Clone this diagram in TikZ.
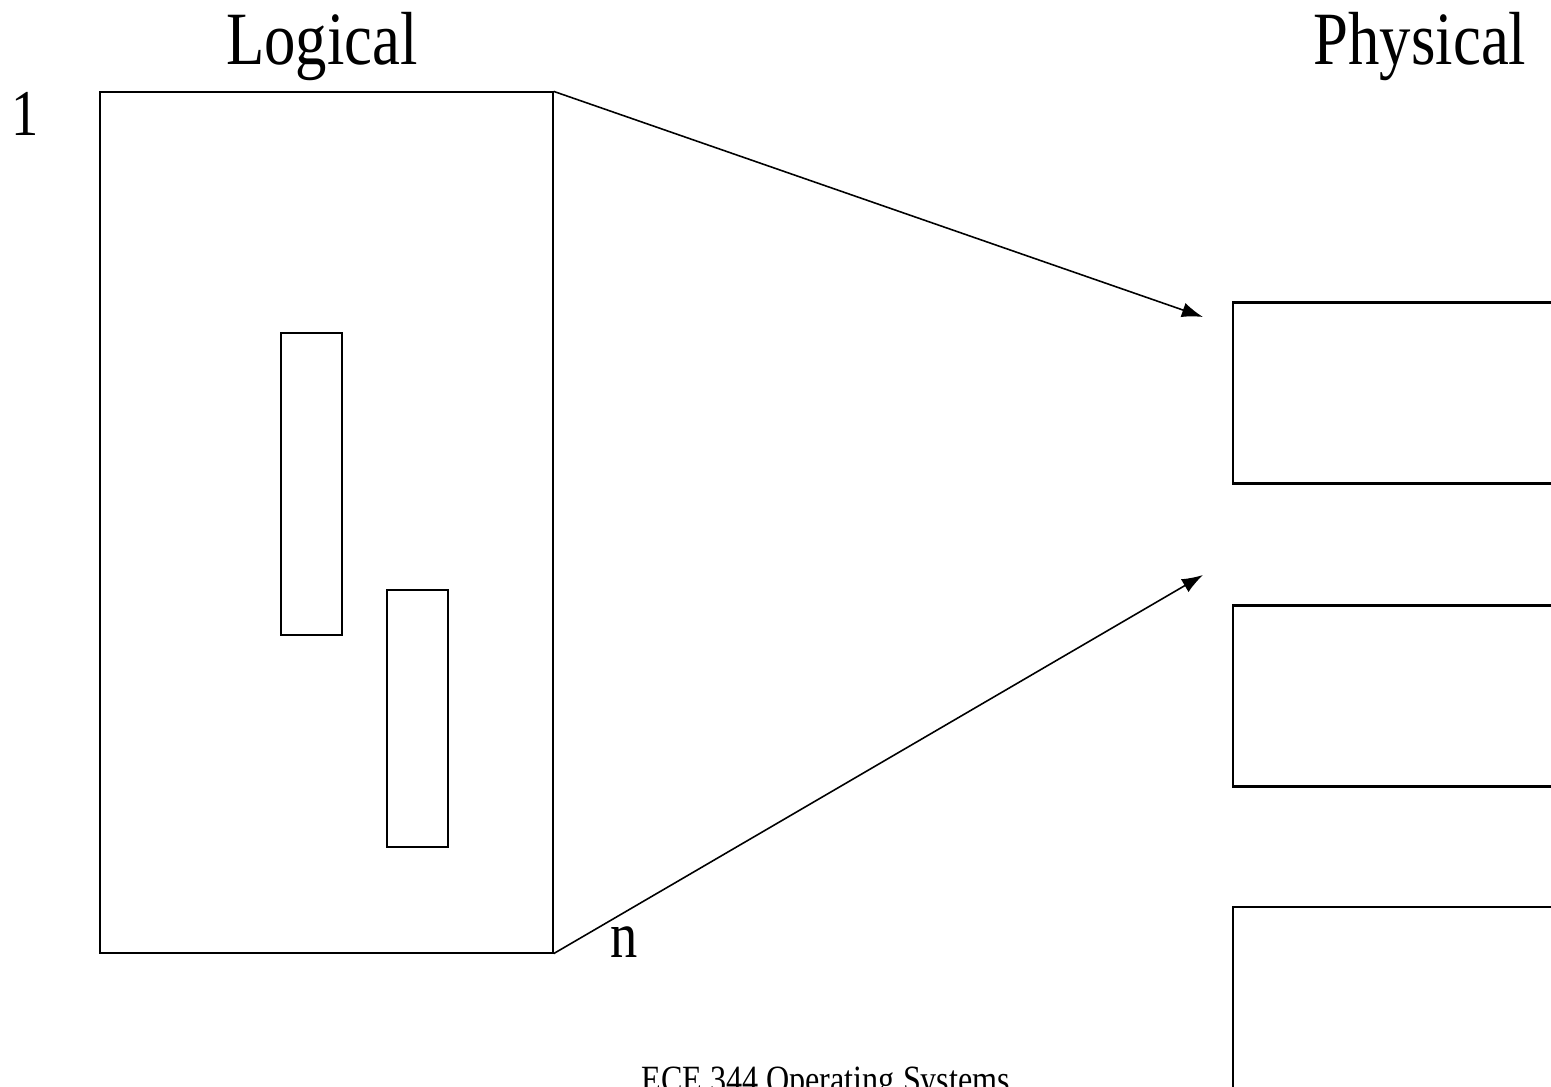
\documentclass[tikz,border=0pt]{standalone}
\usepackage{fontspec}
\setmainfont{Liberation Serif}
\usetikzlibrary{arrows.meta}

\newcommand{\tallword}[1]{\scalebox{1}[1.2]{#1}}

\begin{document}
\begin{tikzpicture}[x=0.02cm, y=-0.02cm,
    lbl/.style={inner sep=0pt, anchor=base, font=\fontsize{35.7}{40}\selectfont},
    endlbl/.style={inner sep=0pt, anchor=base, font=\fontsize{31}{36}\selectfont},
    seg/.style={draw, line width=0.8pt, inner sep=0pt, minimum width=1.22cm},
    frame/.style={draw, line width=1.4pt, inner sep=0pt, minimum width=9.34cm, minimum height=3.62cm},
    maparrow/.style={line width=0.9pt, -{Latex[length=12pt,width=8.5pt]}}]
                    \path[use as bounding box, clip] (0,0) rectangle (1551,1087);

                    % logical address space
                    \node[draw, line width=0.8pt, inner sep=0pt, minimum width=9.06cm, minimum height=17.22cm] (logical) at (326.5,522.5) {};
                    \node[seg, minimum height=6.04cm] (seg1) at (311.5,484) {};
                    \node[seg, minimum height=5.14cm] (seg2) at (417.5,718.5) {};

                    \node[lbl] (logname) at (322,65) {\tallword{Logical}};
                    \node[endlbl] (first) at (25,136) {\tallword{1}};
                    \node[endlbl] (last) at (624,957) {\tallword{n}};

                    % physical memory
                    \node[lbl] (physname) at (1420,65) {\tallword{Physical}};
                    \foreach \i/\yc in {1/393,2/696,3/997.5} {
                        \node[frame] (F\i) at (1466.5,\yc) {};
                    }

                    \coordinate (tip1) at (1203,317);
                    \coordinate (tip2) at (1203,575);
                    \draw[maparrow] (logical.north east) -- (tip1);
                    \draw[maparrow] (logical.south east) -- (tip2);

                    \node[inner sep=0pt, anchor=base west, font=\fontsize{18.3}{22}\selectfont] (footer) at (641,1092) {\tallword{ECE 344 Operating Systems}};
                \end{tikzpicture}
\end{document}
